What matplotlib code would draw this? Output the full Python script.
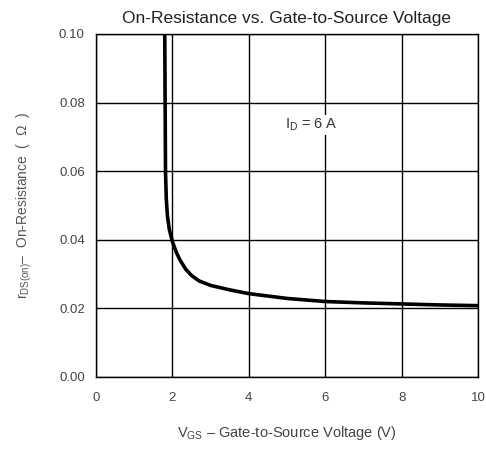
import numpy as np
import matplotlib.pyplot as plt

plt.rcParams['font.family'] = ['Liberation Sans', 'DejaVu Sans']
plt.rcParams['mathtext.fontset'] = 'custom'
plt.rcParams['mathtext.rm'] = 'Liberation Sans'

# values
vgs = [1.80, 1.81, 1.82, 1.84, 1.87, 1.92, 2.0, 2.1, 2.2, 2.35, 2.5, 2.7, 3.0, 3.5, 4.0, 5.0, 6.0, 7.0, 8.0, 9.0, 10.0]
rds = [0.100, 0.080, 0.060, 0.052, 0.047, 0.043, 0.0395, 0.0364, 0.0341, 0.0314, 0.0296, 0.0280, 0.0267, 0.0254, 0.0243, 0.0229, 0.0220, 0.0216, 0.0213, 0.0210, 0.0208]
xticks = [0, 2, 4, 6, 8, 10]
yticks = [0.00, 0.02, 0.04, 0.06, 0.08, 0.10]
ytick_labels = ['0.00', '0.02', '0.04', '0.06', '0.08', '0.10']

fig = plt.figure(figsize=(4.86, 4.49), dpi=100)
ax = fig.add_axes([0.1975, 0.1604, 0.786, 0.7639])

ax.plot(vgs, rds, color='black', lw=2.6, solid_capstyle='butt', zorder=3)

ax.set_xlim(0, 10)
ax.set_ylim(0, 0.10)
ax.set_xticks(xticks)
ax.set_yticks(yticks)
ax.set_yticklabels(ytick_labels)
ax.grid(True, color='black', lw=1.0)
ax.tick_params(length=0, labelsize=9.5, colors='#444444')
ax.tick_params(axis='x', pad=11)
ax.tick_params(axis='y', pad=8)
for s in ax.spines.values():
    s.set_linewidth(1.0)

ax.text(4.95, 0.0735, r'I$_\mathregular{D}$ = 6 A', fontsize=10.5, color='#333333',
        va='center', ha='left', bbox=dict(facecolor='white', edgecolor='none', pad=1), zorder=4)

ax.set_title('On-Resistance vs. Gate-to-Source Voltage', fontsize=12.5, color='#222222', pad=8)
ax.set_xlabel(r'V$_\mathregular{GS}$ – Gate-to-Source Voltage (V)', fontsize=10.5, color='#444444', labelpad=14)
ax.set_ylabel(r'r$_\mathregular{DS(on)}$–  On-Resistance  (  Ω  )', fontsize=10, color='#555555', labelpad=18)

fig.savefig('out.png', dpi=100)
